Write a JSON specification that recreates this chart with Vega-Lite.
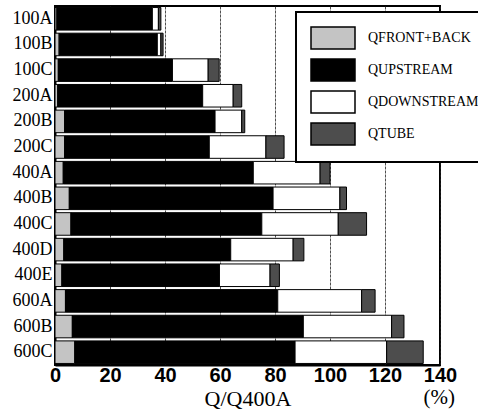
{
  "$schema": "https://vega.github.io/schema/vega-lite/v6.json",
  "width": 385,
  "height": 359,
  "autosize": "none",
  "padding": {"left": 55, "top": 6, "right": 38, "bottom": 49},
  "background": "white",
  "config": {
    "view": {"stroke": "black", "strokeWidth": 2},
    "legend": {"strokeWidth": 2}
  },
  "title": {
    "text": "(%)",
    "orient": "bottom",
    "anchor": "end",
    "font": "Liberation Serif",
    "fontSize": 21,
    "fontWeight": "normal",
    "color": "black",
    "dx": -39,
    "dy": -16,
    "offset": -6
  },
  "data": {
    "values": [
      {"case": "100A", "part": "QFRONT+BACK", "ord": 1, "value": 0.7},
      {"case": "100A", "part": "QUPSTREAM", "ord": 2, "value": 34.7},
      {"case": "100A", "part": "QDOWNSTREAM", "ord": 3, "value": 2.2},
      {"case": "100A", "part": "QTUBE", "ord": 4, "value": 0.9},
      {"case": "100B", "part": "QFRONT+BACK", "ord": 1, "value": 1.5},
      {"case": "100B", "part": "QUPSTREAM", "ord": 2, "value": 35.7},
      {"case": "100B", "part": "QDOWNSTREAM", "ord": 3, "value": 1.3},
      {"case": "100B", "part": "QTUBE", "ord": 4, "value": 0.8},
      {"case": "100C", "part": "QFRONT+BACK", "ord": 1, "value": 1.2},
      {"case": "100C", "part": "QUPSTREAM", "ord": 2, "value": 41.5},
      {"case": "100C", "part": "QDOWNSTREAM", "ord": 3, "value": 13.0},
      {"case": "100C", "part": "QTUBE", "ord": 4, "value": 4.0},
      {"case": "200A", "part": "QFRONT+BACK", "ord": 1, "value": 1.0},
      {"case": "200A", "part": "QUPSTREAM", "ord": 2, "value": 52.7},
      {"case": "200A", "part": "QDOWNSTREAM", "ord": 3, "value": 11.1},
      {"case": "200A", "part": "QTUBE", "ord": 4, "value": 3.1},
      {"case": "200B", "part": "QFRONT+BACK", "ord": 1, "value": 3.5},
      {"case": "200B", "part": "QUPSTREAM", "ord": 2, "value": 54.7},
      {"case": "200B", "part": "QDOWNSTREAM", "ord": 3, "value": 9.7},
      {"case": "200B", "part": "QTUBE", "ord": 4, "value": 1.1},
      {"case": "200C", "part": "QFRONT+BACK", "ord": 1, "value": 3.5},
      {"case": "200C", "part": "QUPSTREAM", "ord": 2, "value": 52.6},
      {"case": "200C", "part": "QDOWNSTREAM", "ord": 3, "value": 20.6},
      {"case": "200C", "part": "QTUBE", "ord": 4, "value": 6.6},
      {"case": "400A", "part": "QFRONT+BACK", "ord": 1, "value": 3.0},
      {"case": "400A", "part": "QUPSTREAM", "ord": 2, "value": 69.1},
      {"case": "400A", "part": "QDOWNSTREAM", "ord": 3, "value": 24.3},
      {"case": "400A", "part": "QTUBE", "ord": 4, "value": 3.6},
      {"case": "400B", "part": "QFRONT+BACK", "ord": 1, "value": 5.2},
      {"case": "400B", "part": "QUPSTREAM", "ord": 2, "value": 74.1},
      {"case": "400B", "part": "QDOWNSTREAM", "ord": 3, "value": 24.3},
      {"case": "400B", "part": "QTUBE", "ord": 4, "value": 2.4},
      {"case": "400C", "part": "QFRONT+BACK", "ord": 1, "value": 5.8},
      {"case": "400C", "part": "QUPSTREAM", "ord": 2, "value": 69.4},
      {"case": "400C", "part": "QDOWNSTREAM", "ord": 3, "value": 27.8},
      {"case": "400C", "part": "QTUBE", "ord": 4, "value": 10.3},
      {"case": "400D", "part": "QFRONT+BACK", "ord": 1, "value": 3.2},
      {"case": "400D", "part": "QUPSTREAM", "ord": 2, "value": 60.7},
      {"case": "400D", "part": "QDOWNSTREAM", "ord": 3, "value": 22.7},
      {"case": "400D", "part": "QTUBE", "ord": 4, "value": 3.9},
      {"case": "400E", "part": "QFRONT+BACK", "ord": 1, "value": 2.5},
      {"case": "400E", "part": "QUPSTREAM", "ord": 2, "value": 57.3},
      {"case": "400E", "part": "QDOWNSTREAM", "ord": 3, "value": 18.4},
      {"case": "400E", "part": "QTUBE", "ord": 4, "value": 3.4},
      {"case": "600A", "part": "QFRONT+BACK", "ord": 1, "value": 3.8},
      {"case": "600A", "part": "QUPSTREAM", "ord": 2, "value": 77.2},
      {"case": "600A", "part": "QDOWNSTREAM", "ord": 3, "value": 30.5},
      {"case": "600A", "part": "QTUBE", "ord": 4, "value": 4.9},
      {"case": "600B", "part": "QFRONT+BACK", "ord": 1, "value": 6.3},
      {"case": "600B", "part": "QUPSTREAM", "ord": 2, "value": 84.0},
      {"case": "600B", "part": "QDOWNSTREAM", "ord": 3, "value": 32.1},
      {"case": "600B", "part": "QTUBE", "ord": 4, "value": 4.5},
      {"case": "600C", "part": "QFRONT+BACK", "ord": 1, "value": 7.2},
      {"case": "600C", "part": "QUPSTREAM", "ord": 2, "value": 80.1},
      {"case": "600C", "part": "QDOWNSTREAM", "ord": 3, "value": 33.3},
      {"case": "600C", "part": "QTUBE", "ord": 4, "value": 13.3}
    ]
  },
  "mark": {"type": "bar", "stroke": "black", "strokeWidth": 1},
  "encoding": {
    "y": {
      "field": "case",
      "type": "nominal",
      "sort": null,
      "scale": {"paddingInner": 0.12, "paddingOuter": 0.06},
      "axis": {
        "title": null,
        "labelFont": "Liberation Serif",
        "labelFontSize": 18,
        "labelColor": "black",
        "labelPadding": 3,
        "ticks": false,
        "domainColor": "black",
        "domainWidth": 2
      }
    },
    "x": {
      "field": "value",
      "type": "quantitative",
      "stack": "zero",
      "scale": {"domain": [0, 140], "nice": false},
      "axis": {
        "values": [0, 20, 40, 60, 80, 100, 120, 140],
        "title": "Q/Q400A",
        "titleFont": "Liberation Serif",
        "titleFontSize": 22,
        "titleFontWeight": "normal",
        "titleColor": "black",
        "titlePadding": 3,
        "labelFont": "Liberation Sans",
        "labelFontWeight": "bold",
        "labelFontSize": 20,
        "labelColor": "black",
        "labelFlush": false,
        "labelPadding": 0,
        "ticks": false,
        "domainColor": "black",
        "domainWidth": 2,
        "grid": true,
        "gridColor": "#222222",
        "gridWidth": 0.8,
        "gridDash": [3, 1]
      }
    },
    "color": {
      "field": "part",
      "type": "nominal",
      "scale": {
        "domain": ["QFRONT+BACK", "QUPSTREAM", "QDOWNSTREAM", "QTUBE"],
        "range": ["#c4c4c4", "#000000", "#ffffff", "#4d4d4d"]
      },
      "legend": {
        "title": null,
        "orient": "none",
        "legendX": 241,
        "legendY": 6,
        "direction": "vertical",
        "fillColor": "white",
        "strokeColor": "black",
        "padding": 14,
        "symbolType": "M -2 -1 H 2 V 1 H -2 Z",
        "symbolSize": 484,
        "symbolOffset": 11,
        "symbolStrokeColor": "black",
        "symbolStrokeWidth": 1.5,
        "symbolOpacity": 1,
        "labelOffset": 23,
        "labelFont": "Liberation Serif",
        "labelFontSize": 14,
        "labelColor": "black",
        "rowPadding": 4,
        "labelLimit": 200
      }
    },
    "order": {"field": "ord", "type": "quantitative"}
  }
}
